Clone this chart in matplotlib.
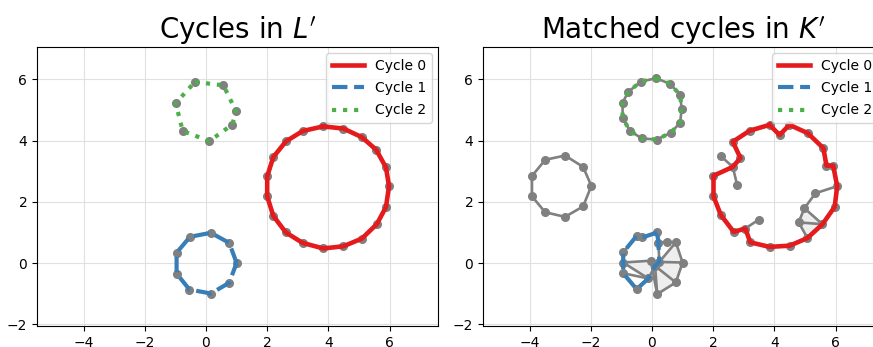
import matplotlib.pyplot as plt
import numpy as np

RED = "#e41a1c"
BLUE = "#377eb8"
GREEN = "#4daf4a"
GREY = "grey"

# ---- L' : cycles ----
L_cycle0 = [(3.83, 4.46), (4.49, 4.39), (5.09, 4.11), (5.56, 3.70), (5.88, 3.12),
            (5.98, 2.51), (5.88, 1.83), (5.58, 1.27), (5.09, 0.80), (4.49, 0.55),
            (3.83, 0.48), (3.16, 0.66), (2.61, 1.00), (2.20, 1.54), (2.00, 2.18),
            (2.00, 2.83), (2.20, 3.46), (2.61, 3.97), (3.16, 4.31)]
L_cycle1 = [(1.00, 0.01), (0.76, 0.66), (0.16, 0.99), (-0.52, 0.86), (-0.96, 0.34),
            (-0.96, -0.34), (-0.54, -0.86), (0.16, -0.99), (0.76, -0.64)]
L_cycle2 = [(-0.36, 5.91), (0.57, 5.80), (0.98, 4.96), (0.86, 4.52), (0.11, 3.98),
            (-0.76, 4.31), (-0.99, 5.22)]

# ---- K' : matched cycles ----
K_cycle0 = [(3.84, 4.51), (4.17, 4.18), (4.49, 4.51), (5.09, 4.24), (5.60, 3.75),
            (5.70, 3.18), (5.92, 3.18), (6.05, 2.51), (5.97, 1.84), (5.57, 1.27),
            (5.08, 0.82), (4.50, 0.57), (3.84, 0.53), (3.21, 0.68), (3.05, 1.13),
            (2.67, 1.02), (2.25, 1.57), (2.01, 2.18), (2.01, 2.85), (2.64, 3.14),
            (2.89, 3.43), (2.64, 3.96), (3.19, 4.32)]
K_cycle1 = [(0.17, 1.00), (-0.31, 0.84), (-0.50, 0.89), (-0.94, 0.35), (-0.94, 0.02),
            (-0.94, -0.33), (-0.50, -0.85), (-0.12, -0.50), (0.10, -0.09), (0.24, 0.04),
            (0.21, 0.67)]
K_cycle2 = [(0.13, 6.03), (0.59, 5.85), (0.92, 5.49), (0.97, 5.03), (0.92, 4.58),
            (0.61, 4.25), (0.15, 4.03), (-0.34, 4.07), (-0.72, 4.32), (-0.96, 4.73),
            (-0.96, 5.23), (-0.78, 5.58), (-0.37, 5.92)]
K_grey_cycle = [(-2.84, 3.51), (-2.25, 3.14), (-1.98, 2.52), (-2.25, 1.85), (-2.84, 1.51),
                (-3.49, 1.66), (-3.92, 2.18), (-3.92, 2.84), (-3.49, 3.37)]
K_extra_nodes = [(2.25, 3.49), (2.78, 2.56), (3.49, 1.42), (5.34, 2.28), (4.98, 1.79),
                 (4.79, 1.33), (-0.04, 0.08), (0.50, 0.70), (0.78, 0.68), (1.00, 0.02),
                 (0.78, -0.63), (0.17, -1.01)]
K_extra_edges = [
    ((2.25, 3.49), (2.64, 3.14)), ((2.64, 3.14), (2.78, 2.56)),
    ((3.05, 1.13), (3.49, 1.42)),
    ((6.05, 2.51), (5.34, 2.28)), ((5.34, 2.28), (4.98, 1.79)),
    ((4.98, 1.79), (4.79, 1.33)), ((4.98, 1.79), (5.57, 1.27)),
    ((4.79, 1.33), (5.57, 1.27)), ((4.79, 1.33), (5.08, 0.82)),
    ((-0.94, 0.02), (-0.04, 0.08)), ((-0.94, 0.02), (-0.12, -0.50)),
    ((-0.94, -0.33), (-0.12, -0.50)), ((-0.04, 0.08), (0.10, -0.09)),
    ((0.21, 0.67), (0.50, 0.70)), ((0.50, 0.70), (0.78, 0.68)),
    ((0.78, 0.68), (1.00, 0.02)), ((0.24, 0.04), (0.78, 0.68)),
    ((0.24, 0.04), (1.00, 0.02)), ((1.00, 0.02), (0.78, -0.63)),
    ((0.10, -0.09), (0.78, -0.63)), ((0.10, -0.09), (0.17, -1.01)),
    ((0.17, -1.01), (0.78, -0.63)), ((-0.04, 0.08), (0.17, -1.01)),
]
K_triangles = [
    [(4.98, 1.79), (4.79, 1.33), (5.57, 1.27)],
    [(4.79, 1.33), (5.57, 1.27), (5.08, 0.82)],
    [(-0.94, 0.02), (-0.04, 0.08), (-0.12, -0.50)],
    [(0.24, 0.04), (0.78, 0.68), (1.00, 0.02)],
    [(0.10, -0.09), (1.00, 0.02), (0.78, -0.63)],
    [(0.10, -0.09), (0.78, -0.63), (0.17, -1.01)],
]

cycle_styles = [
    dict(color=RED, ls="-", lw=3.3, label="Cycle 0"),
    dict(color=BLUE, ls="--", lw=3.0, label="Cycle 1"),
    dict(color=GREEN, ls=":", lw=3.0, label="Cycle 2"),
]


def closed(pts):
    a = np.array(pts + [pts[0]])
    return a[:, 0], a[:, 1]


def draw_panel(ax, cycles, grey_cycles, nodes, edges, triangles, title,
               grey_under=True):
    for tri in triangles:
        ax.fill(*np.array(tri).T, color="#eeeeee", zorder=1)
    under = grey_cycles + (cycles if grey_under else [])
    for c in under:
        ax.plot(*closed(c), color=GREY, lw=1.9, zorder=2)
    for p, q in edges:
        ax.plot([p[0], q[0]], [p[1], q[1]], color=GREY, lw=1.9, zorder=2)
    allpts = np.array(nodes)
    ax.plot(allpts[:, 0], allpts[:, 1], "o", color=GREY, ms=5.5, zorder=3)
    for c, st in zip(cycles, cycle_styles):
        ax.plot(*closed(c), zorder=4, **st)
    ax.set_xlim(-5.52, 7.58)
    ax.set_ylim(-2.05, 7.05)
    ax.set_xticks([-4, -2, 0, 2, 4, 6])
    ax.set_yticks([-2, 0, 2, 4, 6])
    ax.tick_params(labelsize=10)
    ax.grid(True, color="#e0e0e0", lw=0.8)
    ax.set_axisbelow(True)
    ax.legend(loc="upper right", fontsize=10, handlelength=2.3,
              labelspacing=0.6, borderaxespad=0.45)
    ax.set_title(title, fontsize=20)


fig = plt.figure(figsize=(8.73, 3.47), dpi=100)
ax1 = fig.add_axes([37 / 873, 21 / 347, 401 / 873, 279 / 347])
ax2 = fig.add_axes([483 / 873, 21 / 347, 401 / 873, 279 / 347])

draw_panel(ax1, [L_cycle0, L_cycle1, L_cycle2], [],
           L_cycle0 + L_cycle1 + L_cycle2, [], [], "Cycles in $L'$",
           grey_under=False)
draw_panel(ax2, [K_cycle0, K_cycle1, K_cycle2], [K_grey_cycle],
           K_cycle0 + K_cycle1 + K_cycle2 + K_grey_cycle + K_extra_nodes,
           K_extra_edges, K_triangles, "Matched cycles in $K'$")

fig.savefig("out.png", dpi=100)
